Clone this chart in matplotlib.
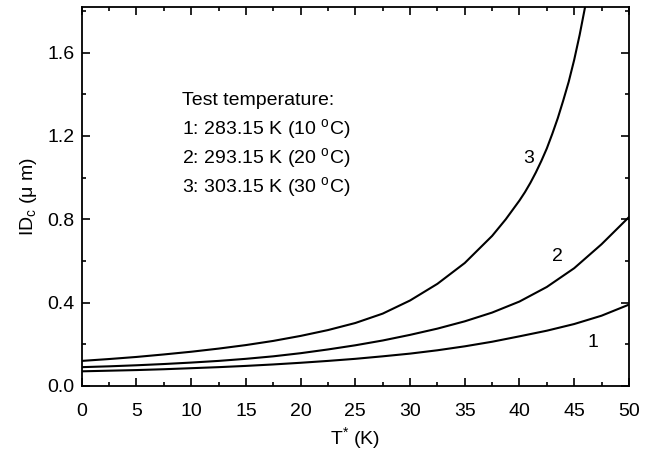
import matplotlib
matplotlib.use("Agg")
import matplotlib.pyplot as plt
from matplotlib.ticker import MultipleLocator, FormatStrFormatter

plt.rcParams["font.family"] = ["Liberation Sans", "DejaVu Sans"]
plt.rcParams["mathtext.fontset"] = "custom"
plt.rcParams["mathtext.rm"] = "Liberation Sans"
plt.rcParams["mathtext.it"] = "Liberation Sans"

# values
t1 = [0, 2.5, 5, 7.5, 10, 12.5, 15, 17.5, 20, 22.5, 25, 27.5, 30, 32.5, 35,
      37.5, 40, 42.5, 45, 47.5, 50]
id1 = [0.07, 0.073, 0.076, 0.08, 0.085, 0.09, 0.096, 0.103, 0.111, 0.12, 0.13,
       0.142, 0.155, 0.171, 0.19, 0.212, 0.238, 0.265, 0.297, 0.337, 0.39]

t2 = t1
id2 = [0.09, 0.094, 0.099, 0.105, 0.112, 0.12, 0.13, 0.142, 0.157, 0.175, 0.195,
       0.218, 0.245, 0.275, 0.31, 0.352, 0.405, 0.475, 0.565, 0.68, 0.81]

t3 = [0, 2.5, 5, 7.5, 10, 12.5, 15, 17.5, 20, 22.5, 25, 27.5, 30, 32.5, 35,
      37.5, 38.75, 40, 40.5, 41, 41.5, 42, 42.5, 43, 43.5, 44, 44.5, 45,
      45.5, 46]
id3 = [0.12, 0.129, 0.139, 0.151, 0.164, 0.179, 0.196, 0.216, 0.24, 0.268,
       0.302, 0.347, 0.41, 0.49, 0.59, 0.72, 0.80, 0.89, 0.93, 0.975, 1.025,
       1.08, 1.14, 1.21, 1.285, 1.37, 1.46, 1.565, 1.685, 1.82]

curve_labels = ["1", "2", "3"]
label_pos = [(46.7, 0.21), (43.5, 0.62), (40.8, 1.09)]

legend_lines = ["Test temperature:",
                "1: 283.15 K (10 $^{\\rm o}$C)",
                "2: 293.15 K (20 $^{\\rm o}$C)",
                "3: 303.15 K (30 $^{\\rm o}$C)"]

fig = plt.figure(figsize=(6.49, 4.54), dpi=100)
ax = fig.add_axes([0.126, 0.150, 0.843, 0.835])

for t, v in [(t1, id1), (t2, id2), (t3, id3)]:
    ax.plot(t, v, color="black", lw=1.5)

for lab, (x, y) in zip(curve_labels, label_pos):
    ax.text(x, y, lab, fontsize=14, ha="center", va="center")

for i, line in enumerate(legend_lines):
    ax.text(9.2, 1.37 - i * 0.139, line, fontsize=14, ha="left", va="center")

ax.set_xlim(0, 50)
ax.set_ylim(0, 1.82)
ax.xaxis.set_major_locator(MultipleLocator(5))
ax.xaxis.set_minor_locator(MultipleLocator(2.5))
ax.yaxis.set_major_locator(MultipleLocator(0.4))
ax.yaxis.set_minor_locator(MultipleLocator(0.2))
ax.yaxis.set_major_formatter(FormatStrFormatter("%.1f"))
ax.tick_params(which="both", direction="in", top=True, right=True,
               labelsize=14, width=1.2)
ax.tick_params(which="major", length=6)
ax.tick_params(axis="x", which="major", pad=12)
ax.tick_params(axis="y", which="major", pad=5)
ax.tick_params(which="minor", length=3)
for s in ax.spines.values():
    s.set_linewidth(1.3)

ax.set_xlabel("T$^{*}$ (K)", fontsize=14, labelpad=4)
ax.set_ylabel("ID$_{\\rm c}$ ($\\mu$ m)", fontsize=14, labelpad=6)

fig.savefig("out.png", dpi=100)
